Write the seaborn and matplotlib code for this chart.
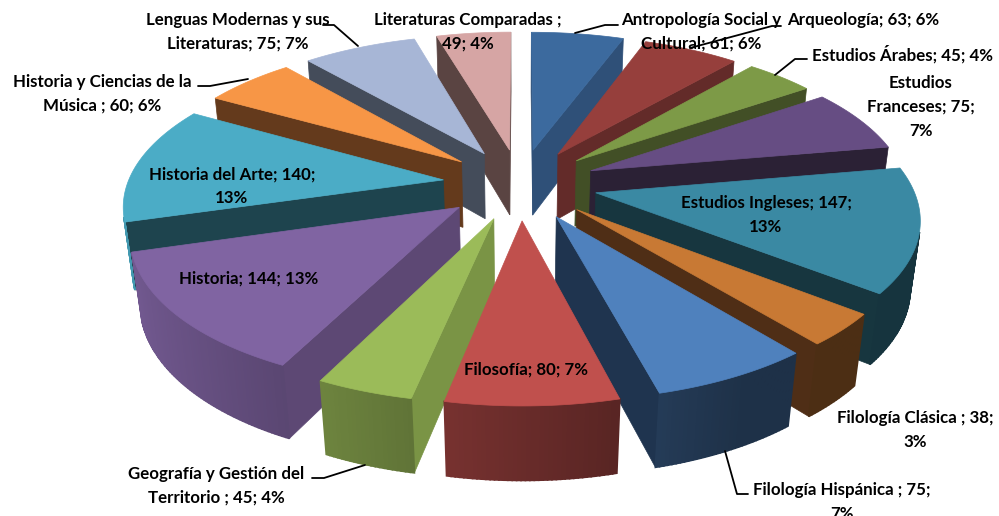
import numpy as np
import matplotlib
matplotlib.use("Agg")
import matplotlib.pyplot as plt
import seaborn as sns

# clockwise from the top
categories = ["Antropología Social y Cultural", "Arqueología", "Estudios Árabes", "Estudios Franceses",
              "Estudios Ingleses", "Filología Clásica", "Filología Hispánica", "Filosofía",
              "Geografía y Gestión del Territorio", "Historia", "Historia del Arte",
              "Historia y Ciencias de la Música", "Lenguas Modernas y sus Literaturas", "Literaturas Comparadas"]
values = [61, 63, 45, 75, 147, 38, 75, 80, 45, 144, 140, 60, 75, 49]
labels = ["Antropología Social y\nCultural; 61; 6%", "Arqueología; 63; 6%", "Estudios Árabes; 45; 4%",
          "Estudios\nFranceses; 75;\n7%", "Estudios Ingleses; 147;\n13%", "Filología Clásica ; 38;\n3%",
          "Filología Hispánica ; 75;\n7%", "Filosofía; 80; 7%", "Geografía y Gestión del\nTerritorio ; 45; 4%",
          "Historia; 144; 13%", "Historia del Arte; 140;\n13%", "Historia y Ciencias de la\nMúsica ; 60; 6%",
          "Lenguas Modernas y sus\nLiteraturas; 75; 7%", "Literaturas Comparadas ;\n49; 4%"]
top_colors = ["#3C6A9E", "#963F3C", "#7D9A47", "#664D83", "#3A89A3", "#C87934", "#4F81BD",
              "#C0504D", "#9BBB59", "#8064A2", "#4BACC6", "#F79646", "#A7B6D6", "#D6A5A4"]
wall_colors = ["#2F5078", "#632B29", "#424F26", "#2B2135", "#17363F", "#4F2E16", "#1F344F",
               "#7A302E", "#7A9445", "#5D4874", "#1E444E", "#643A1C", "#444C5A", "#5A4442"]

label_xy = [(701, 32), (863, 20), (903, 54), (921, 107), (766, 215), (915, 430),
            (842, 502), (526, 370), (216, 486), (249, 279), (232, 186), (102, 94), (238, 32), (468, 32)]
leaders = [[(618, 25), (605, 25), (575, 33)],
           [(781, 26), (772, 26), (690, 48)],
           [(807, 59), (795, 59), (775, 75)],
           [(725, 451), (737, 494), (748, 494)],
           [(312, 478), (324, 478), (365, 465)],
           [(198, 86), (210, 86), (248, 79)],
           [(323, 25), (334, 25), (358, 46)]]

# camera for the tilted pie, all in figure pixels
cx, cy = 520, 184
sx, sy = 316, 145
persp = 0.15
thick = 68
shrink = 0.025
explode = 0.245


def project(x, y, z=0.0):
    w = 1 + persp * y + shrink * z
    return cx + sx * x / w, cy + (thick * z - sy * y) / w


def side(p, a, b):
    return (b[0] - a[0]) * (p[1] - a[1]) - (b[1] - a[1]) * (p[0] - a[0])


def shade(color, s):
    f = max(0.38, 0.55 - 0.35 * s)
    return tuple(np.array(color) * f)


sns.set_theme(style="white")
plt.rcParams["font.family"] = ["Lato", "DejaVu Sans"]

fig = plt.figure(figsize=(9.99, 5.16), dpi=100)
ax = fig.add_axes([0, 0, 1, 1])
ax.set_xlim(0, 999)
ax.set_ylim(516, 0)
ax.axis("off")

tops = sns.color_palette(top_colors, len(top_colors))
walls = sns.color_palette(wall_colors, len(wall_colors))

edges = np.cumsum([0] + values) / sum(values) * 2 * np.pi
mids = (edges[:-1] + edges[1:]) / 2

for i in np.argsort(-np.cos(mids)):
    ox, oy = explode * np.sin(mids[i]), explode * np.cos(mids[i])
    phi = np.linspace(edges[i], edges[i + 1], max(3, int(values[i] / 2)))
    arc_x = ox + np.sin(phi)
    arc_y = oy + np.cos(phi)
    arc_top = [project(a, b) for a, b in zip(arc_x, arc_y)]
    arc_bot = [project(a, b, 1) for a, b in zip(arc_x, arc_y)]
    apex_top = project(ox, oy)
    apex_bot = project(ox, oy, 1)
    middle = np.mean([apex_top] + arc_top, axis=0)

    # radial walls
    for k in (0, -1):
        if side(middle, apex_top, arc_top[k]) * side(arc_bot[k], apex_top, arc_top[k]) < 0:
            poly = np.array([apex_top, arc_top[k], arc_bot[k], apex_bot])
            ax.fill(poly[:, 0], poly[:, 1], color=walls[i], lw=0.5)

    # rim, one strip per step so the light can change along it
    for k in range(len(phi) - 1):
        s_mid = side(middle, arc_top[k], arc_top[k + 1])
        if s_mid * side(arc_bot[k], arc_top[k], arc_top[k + 1]) < 0 or \
                s_mid * side(arc_bot[k + 1], arc_top[k], arc_top[k + 1]) < 0:
            poly = np.array([arc_top[k], arc_top[k + 1], arc_bot[k + 1], arc_bot[k]])
            ax.fill(poly[:, 0], poly[:, 1], color=shade(tops[i], np.sin(phi[k])), lw=1.2)

    poly = np.array([apex_top] + arc_top)
    ax.fill(poly[:, 0], poly[:, 1], color=tops[i], lw=0.5)

for pts in leaders:
    pts = np.array(pts)
    ax.plot(pts[:, 0], pts[:, 1], color="black", lw=1.3, zorder=3)

for (x, y), txt in zip(label_xy, labels):
    ax.text(x, y, txt, ha="center", va="center", fontsize=12.2, fontweight="bold",
            color="black", linespacing=1.6, zorder=4)

fig.savefig("out.png", dpi=100)
